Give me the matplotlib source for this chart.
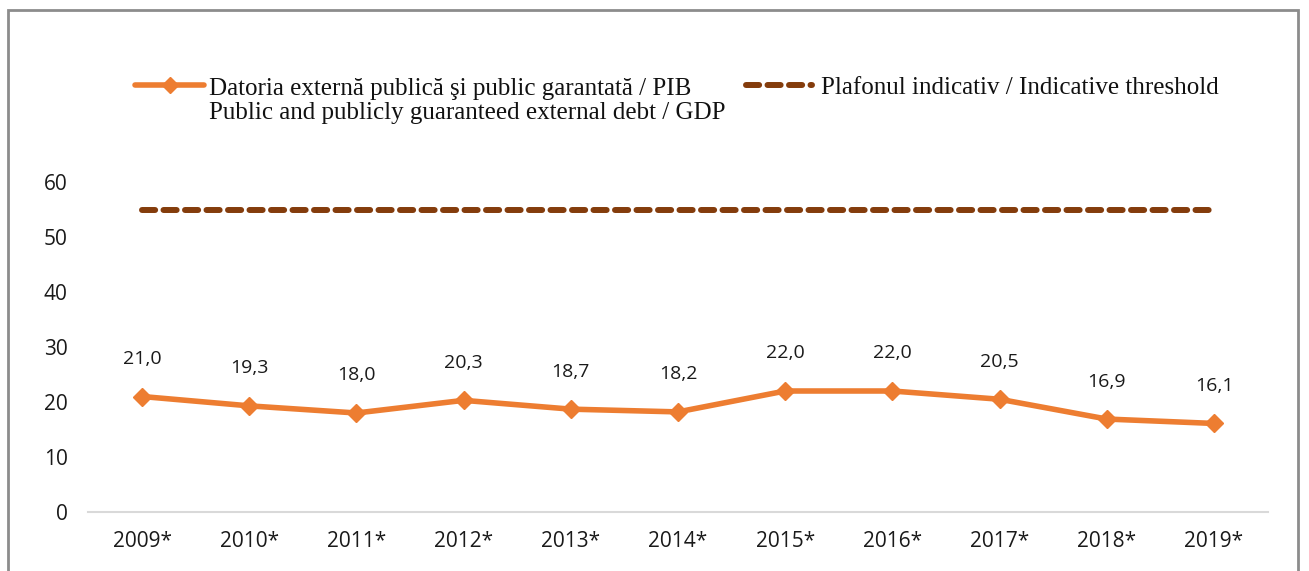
import numpy as np
import matplotlib.pyplot as plt
from matplotlib.lines import Line2D
from matplotlib.patches import Rectangle

years = ["2009*", "2010*", "2011*", "2012*", "2013*", "2014*", "2015*", "2016*", "2017*", "2018*", "2019*"]
debt_gdp = [21.0, 19.3, 18.0, 20.3, 18.7, 18.2, 22.0, 22.0, 20.5, 16.9, 16.1]
threshold = [55] * len(years)
label_debt = ["Datoria externă publică şi public garantată / PIB",
              "Public and publicly guaranteed external debt / GDP"]
label_thr = "Plafonul indicativ / Indicative threshold"

W, H = 1309, 571
fig = plt.figure(figsize=(W / 100, H / 100), dpi=100)
ax = fig.add_axes([88.4 / W, 1 - 512 / H, (1267.6 - 88.4) / W, (512 - 182) / H])

x = np.arange(len(years))
orange = "#ED7D31"
brown = "#843C0C"
dash = (0, (2.2, 1.4))

ax.plot(x, debt_gdp, color=orange, lw=4, marker="D", ms=9, solid_capstyle="round")
ax.plot(x, threshold, color=brown, lw=4.3, ls=dash, dash_capstyle="round")

for xi, v in zip(x, debt_gdp):
    ax.annotate(f"{v:.1f}".replace(".", ","), (xi, v), xytext=(0, 27), textcoords="offset points",
                ha="center", va="center", fontsize=14, family="Open Sans", color="#1a1a1a")

ax.set_xlim(-0.5, len(years) - 0.5)
ax.set_ylim(0, 60)
ax.set_yticks(np.arange(0, 61, 10))
ax.set_xticks(x)
ax.set_xticklabels(years)
for s in ["top", "right", "left"]:
    ax.spines[s].set_visible(False)
ax.spines["bottom"].set_color("#D9D9D9")
ax.spines["bottom"].set_linewidth(1.5)
ax.tick_params(length=0, labelsize=15, colors="#1a1a1a")
ax.tick_params(axis="y", pad=15)
ax.tick_params(axis="x", pad=14)
for t in ax.get_xticklabels() + ax.get_yticklabels():
    t.set_family("Open Sans")

# legend drawn by hand in figure pixels
def fx(px):
    return px / W

def fy(py):
    return 1 - py / H

fig.add_artist(Line2D([fx(135), fx(204)], [fy(85), fy(85)], color=orange, lw=4,
                      solid_capstyle="round"))
fig.add_artist(Line2D([fx(169.5)], [fy(85)], color=orange, marker="D", ms=8))
fig.text(fx(209), fy(86), label_debt[0], ha="left", va="center_baseline",
         family="Liberation Serif", fontsize=18, color="#111111")
fig.text(fx(209), fy(111), label_debt[1], ha="left", va="center_baseline",
         family="Liberation Serif", fontsize=18, color="#111111")

fig.add_artist(Line2D([fx(746), fx(812)], [fy(85), fy(85)], color=brown, lw=4.3,
                      ls=dash, dash_capstyle="round"))
fig.text(fx(821), fy(86), label_thr, ha="left", va="center_baseline",
         family="Liberation Serif", fontsize=18, color="#111111")

# outer frame
fig.patches.append(Rectangle((8 / W, -0.05), (1298 - 8) / W, 1.05 - 10 / H,
                             transform=fig.transFigure, fill=False, ec="#8C8C8C", lw=2))

fig.savefig("out.png", dpi=100)
